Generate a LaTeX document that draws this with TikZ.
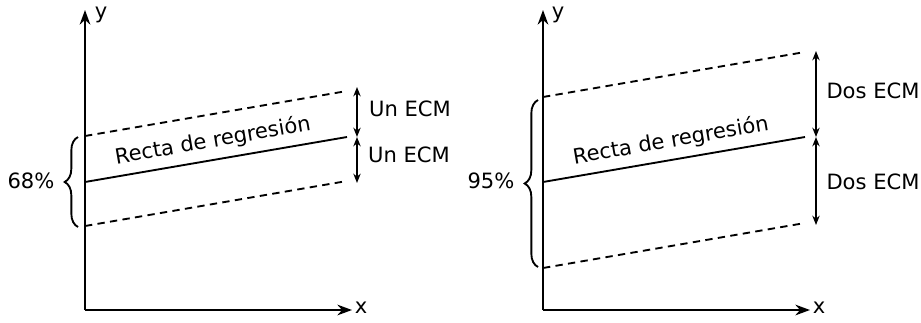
\documentclass[tikz,border=0pt]{standalone}
\usepackage{fontspec}
\setmainfont{DejaVu Sans}
\usetikzlibrary{arrows.meta,decorations.pathreplacing}

\begin{document}
\begin{tikzpicture}[
    x=0.75pt, y=-0.75pt,
    font=\fontsize{15.8}{18}\selectfont,
    axis/.style={
        line width=1.5pt,
        -{Stealth[length=11pt,width=8pt]}
    },
    band/.style={
        line width=1.4pt,
        dash pattern=on 5.5pt off 4pt
    },
    fit/.style={
        line width=1.4pt
    },
    gap/.style={
        line width=1.1pt,
        {Stealth[length=7pt,width=5.5pt]}-{Stealth[length=7pt,width=5.5pt]}
    },
    bracket/.style={
        line width=1.4pt,
        decorate,
        decoration={brace,amplitude=10pt}
    }
]
\useasboundingbox (0,0) rectangle (921,322);

% left: 68%
\coordinate (o1) at (85,310);
\coordinate (y1) at (85,10);
\coordinate (x1) at (352,310);
\draw[axis] (o1) -- (y1);
\draw[axis] (o1) -- (x1);
\node (ly1) at (101,15) {y};
\node (lx1) at (361,308) {x};

\coordinate (ua) at (85,136);
\coordinate (ub) at (347,91);
\coordinate (ma) at (85,182);
\coordinate (mb) at (347,137);
\coordinate (da) at (85,226);
\coordinate (db) at (347,181);
\draw[band] (ua) -- (ub);
\draw[fit] (ma) -- node[above=2pt, sloped, pos=0.5] {Recta de regresión} (mb);
\draw[band] (da) -- (db);

\coordinate (t1) at (357,87);
\coordinate (c1) at (357,137);
\coordinate (b1) at (357,183);
\draw[gap] (t1) -- (c1);
\draw[gap] (c1) -- (b1);
\node (e1) at (410,109) {Un ECM};
\node (e2) at (409,155) {Un ECM};

\coordinate (k1) at (78,227);
\coordinate (k2) at (78,137);
\draw[bracket] (k1) -- (k2);
\node (p1) at (31,181) {68\%};

% right: 95%
\coordinate (o2) at (543,310);
\coordinate (y2) at (543,10);
\coordinate (x2) at (810,310);
\draw[axis] (o2) -- (y2);
\draw[axis] (o2) -- (x2);
\node (ly2) at (558,15) {y};
\node (lx2) at (819,308) {x};

\coordinate (ua2) at (543,97);
\coordinate (ub2) at (805,52);
\coordinate (ma2) at (543,182);
\coordinate (mb2) at (805,137);
\coordinate (da2) at (543,268);
\coordinate (db2) at (805,223);
\draw[band] (ua2) -- (ub2);
\draw[fit] (ma2) -- node[above=2pt, sloped, pos=0.5] {Recta de regresión} (mb2);
\draw[band] (da2) -- (db2);

\coordinate (t2) at (816,51);
\coordinate (c2) at (816,137);
\coordinate (b2) at (816,225);
\draw[gap] (t2) -- (c2);
\draw[gap] (c2) -- (b2);
\node (e3) at (873,91) {Dos ECM};
\node (e4) at (873,182) {Dos ECM};

\coordinate (k3) at (538,267);
\coordinate (k4) at (538,100);
\draw[bracket] (k3) -- (k4);
\node (p2) at (491,181) {95\%};

\end{tikzpicture}
\end{document}
